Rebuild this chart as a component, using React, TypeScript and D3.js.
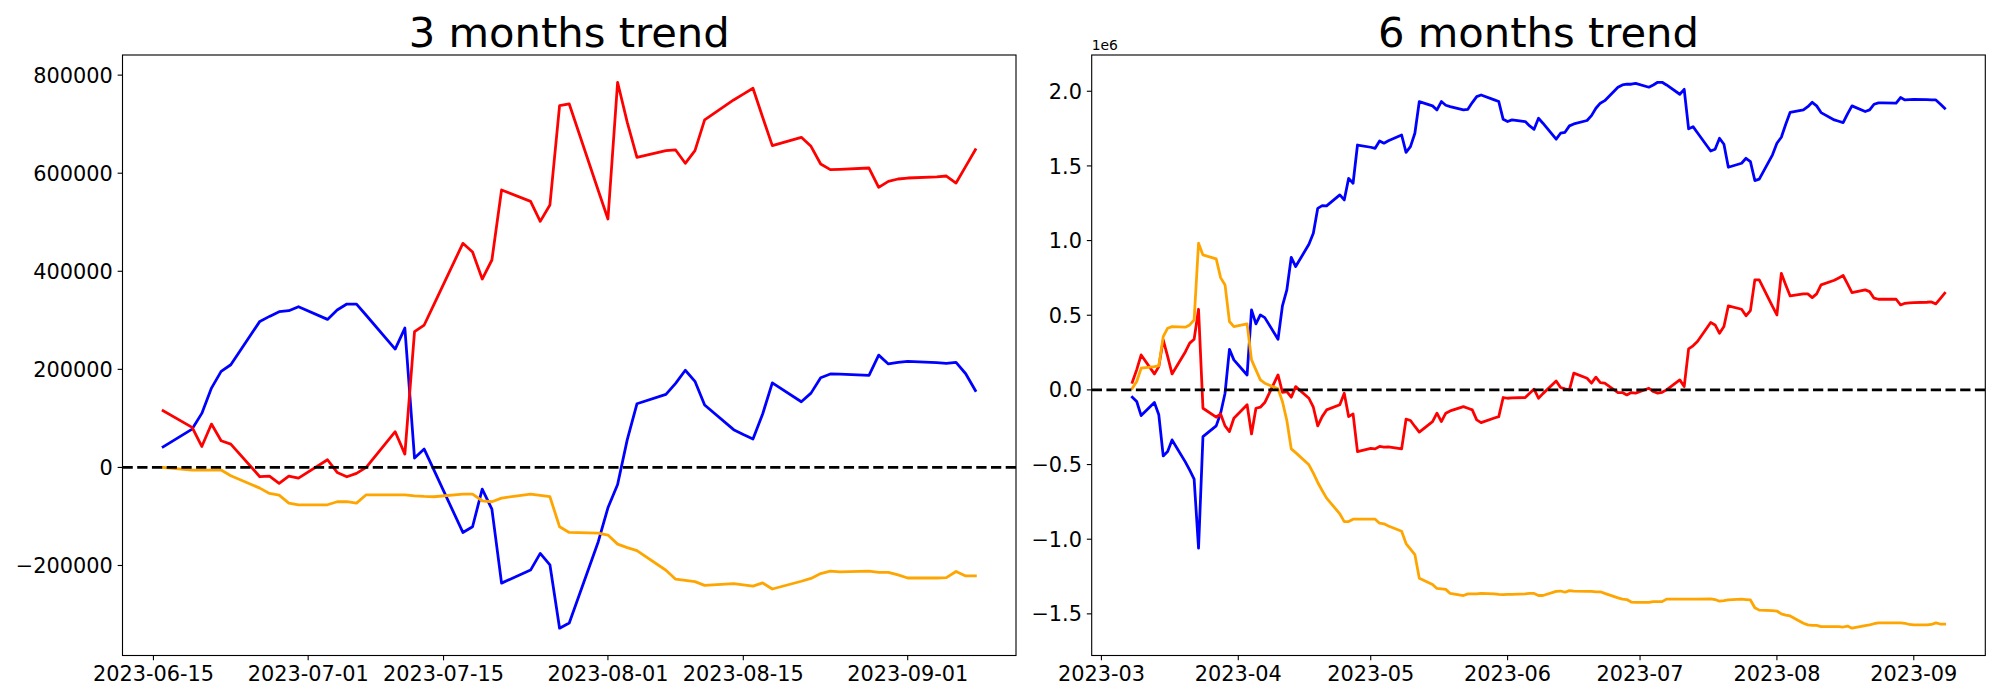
import React, { useEffect } from "react";
import * as d3 from "d3";

// ---------- 3 months data ----------
const dates3m = [
  "2023-06-16","2023-06-19","2023-06-20","2023-06-21","2023-06-22","2023-06-23",
  "2023-06-26","2023-06-27","2023-06-28","2023-06-29","2023-06-30",
  "2023-07-03","2023-07-04","2023-07-05","2023-07-06","2023-07-07",
  "2023-07-10","2023-07-11","2023-07-12","2023-07-13","2023-07-14",
  "2023-07-17","2023-07-18","2023-07-19","2023-07-20","2023-07-21",
  "2023-07-24","2023-07-25","2023-07-26","2023-07-27","2023-07-28",
  "2023-07-31","2023-08-01","2023-08-02","2023-08-03","2023-08-04",
  "2023-08-07","2023-08-08","2023-08-09","2023-08-10","2023-08-11",
  "2023-08-14","2023-08-15","2023-08-16","2023-08-17","2023-08-18",
  "2023-08-21","2023-08-22","2023-08-23","2023-08-24","2023-08-25",
  "2023-08-28","2023-08-29","2023-08-30","2023-08-31","2023-09-01",
  "2023-09-04","2023-09-05","2023-09-06","2023-09-07","2023-09-08",
];
const blue3m = [
  42000, 78200, 110200, 161800, 195800, 209400,
  297800, 308000, 317600, 319600, 327800,
  301900, 321000, 333200, 333200, 310300,
  241400, 284200, 19000, 37400, -5100,
  -132600, -121000, -44200, -85000, -236000,
  -209400, -175300, -198600, -327900, -317100,
  -151500, -82400, -35000, 56600, 129800,
  149000, 171500, 198100, 175600, 127300,
  77000, 67000, 58000, 109000, 172500,
  134000, 151500, 183000, 190500, 190300,
  187700, 229000, 211000, 214000, 216300,
  213500, 212200, 214200, 191000, 156800,
];
const red3m = [
  115600, 81600, 42800, 88400, 54400, 47600,
  -19000, -17700, -32600, -17700, -21800,
  15600, -10200, -19000, -12200, 0,
  72800, 27200, 276800, 290400, 332000,
  457000, 439300, 384200, 423000, 565800,
  542600, 501800, 535200, 737800, 741200,
  564700, 506600, 785400, 703800, 632400,
  646000, 647400, 620200, 646000, 708600,
  749400, 761300, 773200, 714000, 656200,
  673200, 654800, 618800, 607200, 607900,
  610600, 571200, 583400, 588200, 590200,
  592300, 594300, 580000, 614000, 648000,
];
const orange3m = [
  0, -5400, -5400, -5400, -5400, -17000,
  -42200, -53000, -56400, -72800, -76200,
  -76200, -70000, -70000, -72800, -55800,
  -55800, -55800, -58000, -59200, -59800,
  -54400, -54400, -68000, -70000, -62600,
  -54400, -57100, -59800, -121000, -132600,
  -134000, -138000, -156400, -163500, -169800,
  -209700, -228000, -230500, -233000, -240500,
  -237200, -239700, -242200, -235500, -248000,
  -232200, -226400, -216400, -211400, -213100,
  -211400, -213900, -213900, -219000, -225500,
  -225500, -224700, -212200, -221400, -221400,
];
const xTicks3m = ["2023-06-15", "2023-07-01", "2023-07-15", "2023-08-01", "2023-08-15", "2023-09-01"];
const yTicks3m = [-200000, 0, 200000, 400000, 600000, 800000];

// ---------- 6 months data ----------
const dates6m = [
  "2023-03-08","2023-03-09","2023-03-10","2023-03-13","2023-03-14","2023-03-15","2023-03-16","2023-03-17",
  "2023-03-20","2023-03-21","2023-03-22","2023-03-23","2023-03-24","2023-03-27","2023-03-28","2023-03-29",
  "2023-03-30","2023-03-31",
  "2023-04-03","2023-04-04","2023-04-05","2023-04-06","2023-04-07","2023-04-10","2023-04-11","2023-04-12",
  "2023-04-13","2023-04-14","2023-04-17","2023-04-18","2023-04-19","2023-04-20","2023-04-21","2023-04-24",
  "2023-04-25","2023-04-26","2023-04-27","2023-04-28",
  "2023-05-01","2023-05-02","2023-05-03","2023-05-04","2023-05-05","2023-05-08","2023-05-09","2023-05-10",
  "2023-05-11","2023-05-12","2023-05-15","2023-05-16","2023-05-17","2023-05-18","2023-05-19","2023-05-22",
  "2023-05-23","2023-05-24","2023-05-25","2023-05-26","2023-05-29","2023-05-30","2023-05-31",
  "2023-06-01","2023-06-02","2023-06-05","2023-06-06","2023-06-07","2023-06-08","2023-06-09","2023-06-12",
  "2023-06-13","2023-06-14","2023-06-15","2023-06-16","2023-06-19","2023-06-20","2023-06-21","2023-06-22",
  "2023-06-23","2023-06-26","2023-06-27","2023-06-28","2023-06-29","2023-06-30",
  "2023-07-03","2023-07-04","2023-07-05","2023-07-06","2023-07-07","2023-07-10","2023-07-11","2023-07-12",
  "2023-07-13","2023-07-14","2023-07-17","2023-07-18","2023-07-19","2023-07-20","2023-07-21","2023-07-24",
  "2023-07-25","2023-07-26","2023-07-27","2023-07-28","2023-07-31",
  "2023-08-01","2023-08-02","2023-08-03","2023-08-04","2023-08-07","2023-08-08","2023-08-09","2023-08-10",
  "2023-08-11","2023-08-14","2023-08-15","2023-08-16","2023-08-17","2023-08-18","2023-08-21","2023-08-22",
  "2023-08-23","2023-08-24","2023-08-25","2023-08-28","2023-08-29","2023-08-30","2023-08-31",
  "2023-09-01","2023-09-04","2023-09-05","2023-09-06","2023-09-07","2023-09-08",
];
const blue6m = [
  -49000, -78000, -172000, -85000, -167000, -442000, -413000, -335000, -482000, -538000, -598000, -1060000,
  -313000, -241000, -156000, -22000, 272000, 201000,
  100000, 536000, 442000, 502000, 484000, 339000, 563000, 670000, 888000, 826000, 975000, 1049000,
  1216000, 1234000, 1232000, 1306000, 1272000, 1417000, 1384000, 1640000,
  1625000, 1618000, 1667000, 1652000, 1668000, 1707000, 1591000, 1629000, 1719000, 1931000, 1902000, 1875000,
  1931000, 1906000, 1897000, 1875000, 1879000, 1924000, 1964000, 1975000, 1942000, 1931000, 1812000,
  1797000, 1808000, 1797000, 1768000, 1745000, 1819000, 1786000, 1679000, 1719000, 1725000, 1768000, 1781000,
  1804000, 1837000, 1886000, 1920000, 1937000, 2027000, 2042000, 2047000, 2047000, 2053000,
  2027000, 2042000, 2060000, 2060000, 2042000, 1980000, 2013000, 1748000, 1763000, 1722000, 1600000, 1612000,
  1685000, 1645000, 1491000, 1518000, 1551000, 1529000, 1402000, 1411000, 1574000,
  1652000, 1692000, 1779000, 1859000, 1875000, 1897000, 1926000, 1902000, 1857000, 1808000, 1799000, 1790000,
  1848000, 1902000, 1864000, 1875000, 1913000, 1922000, 1922000, 1920000, 1958000, 1942000, 1944000,
  1946000, 1944000, 1942000, 1942000, 1915000, 1886000,
];
const red6m = [
  51000, 136000, 234000, 107000, 156000, 335000, 225000, 107000, 254000, 313000, 339000, 540000,
  -123000, -183000, -161000, -241000, -279000, -190000,
  -100000, -295000, -123000, -116000, -85000, 100000, -16000, -11000, -49000, 22000, -56000, -116000,
  -241000, -179000, -134000, -100000, -22000, -179000, -161000, -413000,
  -391000, -395000, -379000, -384000, -382000, -395000, -196000, -205000, -245000, -283000, -212000, -156000,
  -212000, -156000, -141000, -112000, -123000, -134000, -201000, -219000, -188000, -179000, -51000,
  -56000, -54000, -51000, -22000, 5000, -56000, -25000, 60000, 16000, 7000, 0, 112000,
  78000, 45000, 85000, 49000, 45000, -18000, -18000, -34000, -18000, -22000,
  11000, -11000, -22000, -16000, 0, 67000, 22000, 275000, 295000, 324000, 451000, 435000,
  379000, 424000, 563000, 540000, 496000, 531000, 737000, 737000, 560000,
  502000, 781000, 703000, 629000, 643000, 643000, 618000, 643000, 703000, 734000, 750000, 766000,
  710000, 652000, 670000, 658000, 614000, 607000, 607000, 607000, 569000, 580000, 583000,
  585000, 587000, 589000, 576000, 612000, 647000,
];
const orange6m = [
  11000, 56000, 145000, 156000, 161000, 357000, 413000, 424000, 420000, 435000, 469000, 982000,
  904000, 877000, 752000, 703000, 458000, 424000,
  442000, 201000, 134000, 67000, 45000, 7000, -78000, -205000, -395000, -420000, -502000, -558000,
  -620000, -674000, -725000, -830000, -882000, -882000, -866000, -866000,
  -866000, -866000, -893000, -897000, -911000, -947000, -1029000, -1066000, -1103000, -1262000, -1303000, -1330000,
  -1333000, -1336000, -1363000, -1377000, -1366000, -1366000, -1366000, -1363000, -1366000, -1369000, -1371000,
  -1369000, -1369000, -1366000, -1363000, -1363000, -1377000, -1377000, -1349000, -1347000, -1355000, -1344000, -1347000,
  -1349000, -1349000, -1352000, -1352000, -1363000, -1393000, -1401000, -1404000, -1421000, -1423000,
  -1423000, -1418000, -1418000, -1418000, -1401000, -1401000, -1401000, -1401000, -1401000, -1401000, -1399000, -1404000,
  -1415000, -1412000, -1407000, -1401000, -1404000, -1407000, -1459000, -1475000, -1478000,
  -1481000, -1500000, -1508000, -1514000, -1563000, -1574000, -1577000, -1577000, -1585000, -1585000, -1585000, -1588000,
  -1582000, -1596000, -1579000, -1574000, -1566000, -1560000, -1560000, -1560000, -1560000, -1563000, -1571000,
  -1574000, -1574000, -1571000, -1560000, -1568000, -1568000,
];
const xTicks6m = ["2023-03-01", "2023-04-01", "2023-05-01", "2023-06-01", "2023-07-01", "2023-08-01", "2023-09-01"];
const yTicks6m = [-1500000, -1000000, -500000, 0, 500000, 1000000, 1500000, 2000000];

// ---------- styling ----------
const FONT = "'DejaVu Sans', sans-serif";
const TICK_FS = 20.83;
const TITLE_FS = 41.67;
const LW = 2.78;
const TICK_LEN = 4.86;
const PAD = 4.86;
const SPINE = 1.11;

const parse = d3.utcParse("%Y-%m-%d");
const minus = (s: string) => s.replace("-", "\u2212");

type S = { values: number[]; color: string };

function Panel(props: {
  id: string;
  title: string;
  dates: string[];
  series: S[];
  x0: number; x1: number; y0: number; y1: number;
  xTicks: string[];
  xFmt: (d: Date) => string;
  yTicks: number[];
  yFmt: (v: number) => string;
  offsetText?: string;
}) {
  const { id, title, dates, series, x0, x1, y0, y1, xTicks, xFmt, yTicks, yFmt, offsetText } = props;
  const ds = dates.map((d) => parse(d) as Date);
  const tmin = +d3.min(ds)!;
  const tmax = +d3.max(ds)!;
  const span = tmax - tmin;
  const x = d3.scaleUtc().domain([new Date(tmin - 0.05 * span), new Date(tmax + 0.05 * span)]).range([x0, x1]);
  const all = series.flatMap((s) => s.values);
  const vmin = d3.min(all)!;
  const vmax = d3.max(all)!;
  const m = (vmax - vmin) * 0.05;
  const y = d3.scaleLinear().domain([vmin - m, vmax + m]).range([y1, y0]);
  const line = d3.line<number>().x((_, i) => x(ds[i])).y((v) => y(v));

  return (
    <g>
      <defs>
        <clipPath id={`clip-${id}`}>
          <rect x={x0} y={y0} width={x1 - x0} height={y1 - y0} />
        </clipPath>
      </defs>
      <g clipPath={`url(#clip-${id})`}>
        {series.map((s, i) => (
          <path key={i} d={line(s.values) || ""} fill="none" stroke={s.color} strokeWidth={LW}
            strokeLinejoin="round" strokeLinecap="square" />
        ))}
        <line x1={x0} x2={x1} y1={y(0)} y2={y(0)} stroke="black" strokeWidth={LW} strokeDasharray="10.28 4.44" />
      </g>
      <rect x={x0} y={y0} width={x1 - x0} height={y1 - y0} fill="none" stroke="black" strokeWidth={SPINE} />
      {xTicks.map((t) => {
        const d = parse(t) as Date;
        const px = x(d);
        return (
          <g key={t}>
            <line x1={px} x2={px} y1={y1} y2={y1 + TICK_LEN} stroke="black" strokeWidth={SPINE} />
            <text x={px} y={y1 + TICK_LEN + PAD} dy={0.76 * TICK_FS} textAnchor="middle"
              fontFamily={FONT} fontSize={TICK_FS} fill="black">{xFmt(d)}</text>
          </g>
        );
      })}
      {yTicks.map((v) => {
        const py = y(v);
        return (
          <g key={v}>
            <line x1={x0 - TICK_LEN} x2={x0} y1={py} y2={py} stroke="black" strokeWidth={SPINE} />
            <text x={x0 - TICK_LEN - PAD} y={py} dy={0.365 * TICK_FS} textAnchor="end"
              fontFamily={FONT} fontSize={TICK_FS} fill="black">{yFmt(v)}</text>
          </g>
        );
      })}
      {offsetText && (
        <text x={x0} y={y0 - 5} fontFamily={FONT} fontSize={13.9} fill="black">{offsetText}</text>
      )}
      <text x={(x0 + x1) / 2} y={y0 - 8.33} textAnchor="middle" fontFamily={FONT} fontSize={TITLE_FS} fill="black">
        {title}
      </text>
    </g>
  );
}

export default function App() {
  useEffect(() => {
    document.body.style.margin = "0";
  }, []);
  const fmtDay = d3.utcFormat("%Y-%m-%d");
  const fmtMonth = d3.utcFormat("%Y-%m");
  return (
    <svg width={2000} height={700} viewBox="0 0 2000 700"
      style={{ position: "absolute", left: 0, top: 0, background: "white" }}>
      <rect x={0} y={0} width={2000} height={700} fill="white" />
      <Panel
        id="p3"
        title="3 months trend"
        dates={dates3m}
        series={[
          { values: blue3m, color: "blue" },
          { values: red3m, color: "red" },
          { values: orange3m, color: "orange" },
        ]}
        x0={122.5} x1={1016} y0={55} y1={655.5}
        xTicks={xTicks3m}
        xFmt={fmtDay}
        yTicks={yTicks3m}
        yFmt={(v) => minus(String(v))}
      />
      <Panel
        id="p6"
        title="6 months trend"
        dates={dates6m}
        series={[
          { values: blue6m, color: "blue" },
          { values: red6m, color: "red" },
          { values: orange6m, color: "orange" },
        ]}
        x0={1091.7} x1={1985.3} y0={55} y1={655.5}
        xTicks={xTicks6m}
        xFmt={fmtMonth}
        yTicks={yTicks6m}
        yFmt={(v) => minus((v / 1e6).toFixed(1))}
        offsetText="1e6"
      />
    </svg>
  );
}
